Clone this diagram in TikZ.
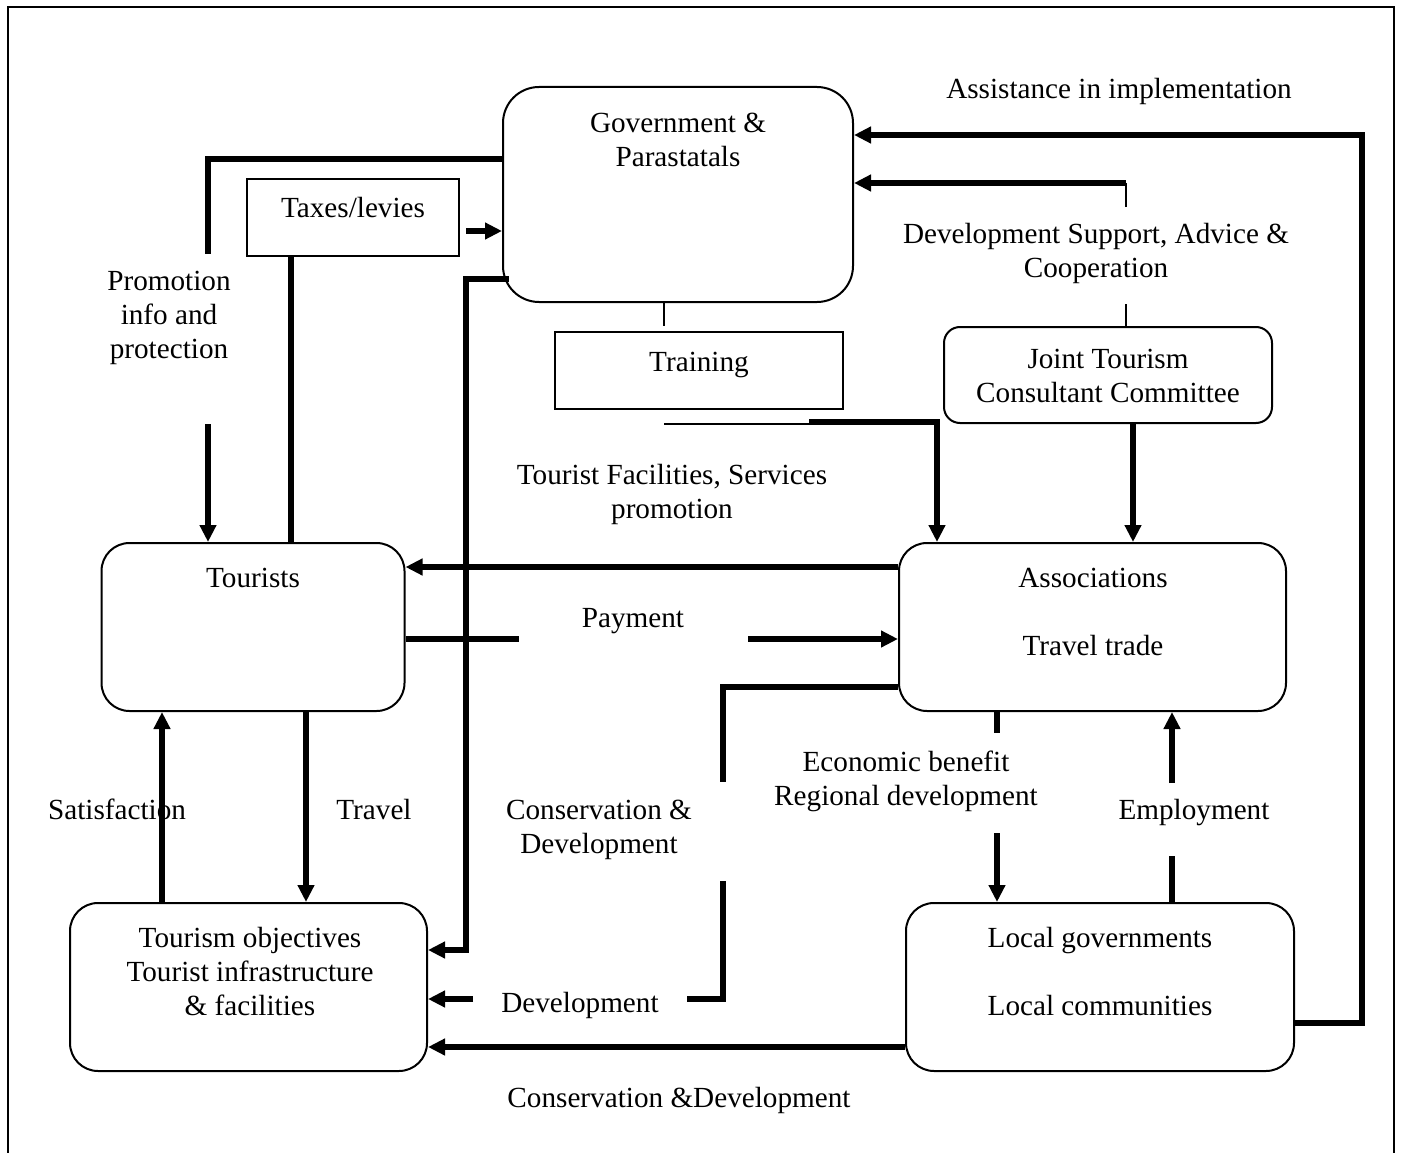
\documentclass[tikz,border=0pt]{standalone}
\usepackage{fontspec}
\setmainfont{Liberation Serif}
\usetikzlibrary{arrows.meta}
\newcommand{\labelsize}{\fontsize{29.2}{34}\selectfont}

\begin{document}
\begin{tikzpicture}[x=1pt,y=-1pt,
	box/.style={draw, line width=2pt, inner sep=0pt},
	rbox/.style={box, rounded corners=#1},
	txt/.style={font=\labelsize, align=center, inner sep=0pt, anchor=base},
	flow/.style={line width=5.5pt},
	thinline/.style={line width=1.6pt},
	arr/.style={-{Triangle[length=17pt,width=16pt]}}]
	\useasboundingbox (0,0) rectangle (1401,1153);
	\draw[line width=2pt] (8,1153) -- (8,7) -- (1394,7) -- (1394,1153);

	% boxes
	\node[rbox=36pt, minimum width=350pt, minimum height=215pt] (gov) at (678,194.5) {};
	\node[box, minimum width=212pt, minimum height=77pt] (taxes) at (353,217.5) {};
	\node[box, minimum width=288pt, minimum height=77pt] (training) at (699,370.5) {};
	\node[rbox=16pt, minimum width=328pt, minimum height=96pt] (joint) at (1108,375) {};
	\node[rbox=28pt, minimum width=303pt, minimum height=168pt] (tourists) at (253,627) {};
	\node[rbox=28pt, minimum width=387pt, minimum height=168pt] (assoc) at (1092.5,627) {};
	\node[rbox=28pt, minimum width=357pt, minimum height=168pt] (objectives) at (248.5,987) {};
	\node[rbox=28pt, minimum width=388pt, minimum height=168pt] (local) at (1100,987) {};

	% texts (multi-line ones sit on their last line)
	\node[txt] (govtxt) at (678,167) {Government \&\\Parastatals};
	\node[txt] (taxtxt) at (353,217) {Taxes/levies};
	\node[txt] (traintxt) at (699,371) {Training};
	\node[txt] (jointtxt) at (1108,402) {Joint Tourism\\Consultant Committee};
	\node[txt] (tourtxt) at (253,587) {Tourists};
	\node[txt] (assoctxt) at (1093,655) {Associations\\[34pt]Travel trade};
	\node[txt] (objtxt) at (250,1015) {Tourism objectives\\Tourist infrastructure\\\& facilities};
	\node[txt] (localtxt) at (1100,1015) {Local governments\\[34pt]Local communities};

	\node[txt] (assist) at (1119,99) {Assistance in implementation};
	\node[txt] (support) at (1096,277) {Development Support, Advice \&\\Cooperation};
	\node[txt] (promo) at (169,358) {Promotion\\info and\\protection};
	\node[txt] (facil) at (672,518) {Tourist Facilities, Services\\promotion};
	\node[txt] (pay) at (633,627) {Payment};
	\node[txt] (econ) at (906,805) {Economic benefit\\Regional development};
	\node[txt] (employ) at (1194,819) {Employment};
	\node[txt] (satis) at (117,819) {Satisfaction};
	\node[txt] (travel) at (374,819) {Travel};
	\node[txt] (consdev) at (599,853) {Conservation \&\\Development};
	\node[txt] (dev) at (580,1012) {Development};
	\node[txt] (consbot) at (679,1107) {Conservation \&Development};

	% connectors
	\coordinate (pr) at (208,159);
	\draw[flow] (gov.west |- pr) -- (pr) -- (208,254);
	\draw[flow,arr] (208,424) -- (tourists.north -| pr);

	\coordinate (tx) at (291,400);
	\draw[flow] (tourists.north -| tx) -- (taxes.south -| tx);
	\coordinate (ta) at (466,231);
	\draw[flow,arr] (ta) -- (gov.west |- ta);

	\coordinate (gs) at (509,279);
	\coordinate (go) at (466,950);
	\draw[flow,arr] (gs) -- (gs -| go) -- (go) -- (objectives.east |- go);

	\coordinate (gt) at (664,326);
	\draw[thinline] (gov.south -| gt) -- (gt);
	\coordinate (tr) at (809,424);
	\coordinate (ta2) at (937,422);
	\draw[thinline] (664,424) -- (tr);
	\draw[flow,arr] (809,422) -- (ta2) -- (assoc.north -| ta2);

	\coordinate (as) at (1362,135);
	\draw[flow,arr] (local.east |- 0,1023) -- (1362,1023) -- (as) -- (gov.east |- as);

	\coordinate (js) at (1126,183);
	\draw[thinline] (joint.north -| js) -- (1126,304);
	\draw[thinline] (1126,207) -- (js);
	\draw[flow,arr] (js) -- (gov.east |- js);
	\coordinate (ja) at (1133,500);
	\draw[flow,arr] (joint.south -| ja) -- (assoc.north -| ja);

	\coordinate (at) at (700,567);
	\draw[flow,arr] (assoc.west |- at) -- (tourists.east |- at);

	\coordinate (pa) at (519,639);
	\coordinate (pb) at (748,639);
	\draw[flow] (tourists.east |- pa) -- (pa);
	\draw[flow,arr] (pb) -- (assoc.west |- pb);

	\coordinate (cd) at (723,687);
	\draw[flow] (assoc.west |- cd) -- (cd) -- (723,782);
	\coordinate (dv) at (473,999);
	\draw[flow] (723,881) -- (723,999) -- (687,999);
	\draw[flow,arr] (dv) -- (objectives.east |- dv);

	\coordinate (eb) at (997,733);
	\draw[flow] (assoc.south -| eb) -- (eb);
	\draw[flow,arr] (997,833) -- (local.north -| eb);

	\coordinate (em) at (1172,856);
	\draw[flow] (local.north -| em) -- (em);
	\draw[flow,arr] (1172,783) -- (assoc.south -| em);

	\coordinate (lo) at (700,1047);
	\draw[flow,arr] (local.west |- lo) -- (objectives.east |- lo);

	\coordinate (sa) at (162,800);
	\coordinate (tv) at (306,800);
	\draw[flow,arr] (objectives.north -| sa) -- (tourists.south -| sa);
	\draw[flow,arr] (tourists.south -| tv) -- (objectives.north -| tv);
\end{tikzpicture}
\end{document}
